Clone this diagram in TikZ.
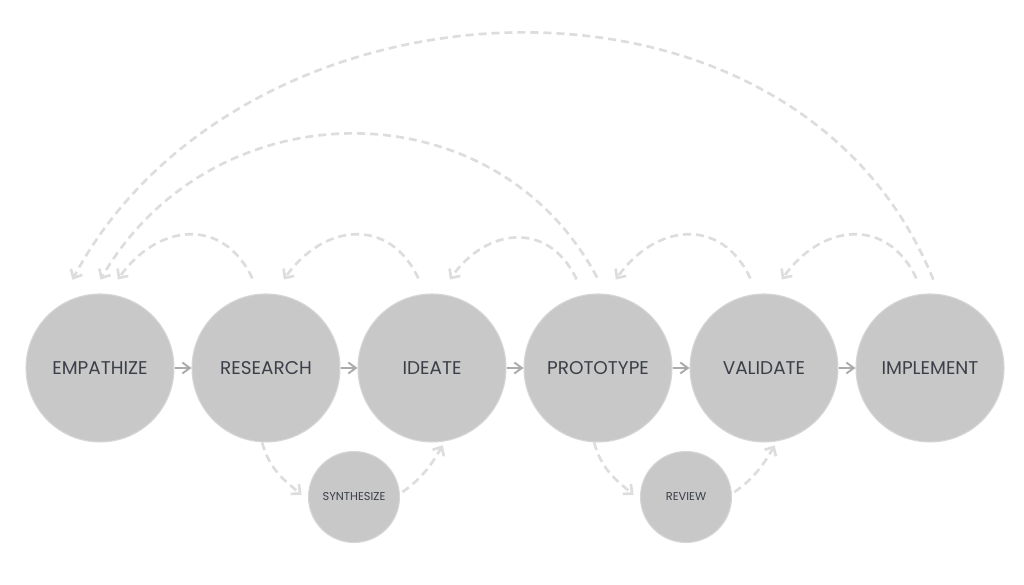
\documentclass[tikz,border=0pt]{standalone}
\usepackage{fontspec}
\setmainfont{Poppins}
\usetikzlibrary{arrows.meta}
\definecolor{stagefill}{HTML}{C8C8C8}
\definecolor{stagerim}{HTML}{D6D6D6}
\definecolor{stagetext}{HTML}{3B3F48}
\definecolor{forwardgray}{HTML}{ABABAB}
\definecolor{feedbackgray}{HTML}{DDDDDD}
\begin{document}
\begin{tikzpicture}[
    stage/.style={circle, fill=stagefill, draw=stagerim, line width=0.6pt, minimum size=2.96cm, inner sep=0pt, text=stagetext, font=\fontsize{10.5}{12}\selectfont},
    substage/.style={stage, minimum size=1.82cm, font=\fontsize{6.5}{8}\selectfont},
    forward/.style={-{Straight Barb[length=1.5mm,width=2.2mm]}, line width=1.1pt, forwardgray},
    feedback/.style={-{Straight Barb[length=1.4mm,width=2.6mm]}, line width=1.5pt, feedbackgray, dash pattern=on 0.16cm off 0.1cm}
]
    % Canvas
    \fill[white] (0,0) rectangle (20.48,11.7);
    \useasboundingbox (0,0) rectangle (20.48,11.7);

    % Main stages
    \node[stage] (emp) at (2.00,4.34) {EMPATHIZE};
    \node[stage] (res) at (5.32,4.34) {RESEARCH};
    \node[stage] (ide) at (8.64,4.34) {IDEATE};
    \node[stage] (pro) at (11.96,4.34) {PROTOTYPE};
    \node[stage] (val) at (15.28,4.34) {VALIDATE};
    \node[stage] (imp) at (18.60,4.34) {IMPLEMENT};

    % Side stages
    \node[substage] (syn) at (7.08,1.76) {SYNTHESIZE};
    \node[substage] (rev) at (13.72,1.76) {REVIEW};

    % Forward flow
    \draw[forward] (emp) -- (res);
    \draw[forward] (res) -- (ide);
    \draw[forward] (ide) -- (pro);
    \draw[forward] (pro) -- (val);
    \draw[forward] (val) -- (imp);

    % Short loops back
    \draw[feedback, shorten <=0.34cm, shorten >=0.35cm] (res.95) to[out=115, in=55, looseness=1.45] (emp.84);
    \draw[feedback, shorten <=0.34cm, shorten >=0.35cm] (ide.95) to[out=115, in=55, looseness=1.45] (res.84);
    \draw[feedback, shorten <=0.34cm, shorten >=0.35cm] (pro.101) to[out=115, in=55, looseness=1.45] (ide.84);
    \draw[feedback, shorten <=0.34cm, shorten >=0.35cm] (val.95) to[out=115, in=55, looseness=1.45] (pro.84);
    \draw[feedback, shorten <=0.34cm, shorten >=0.35cm] (imp.95) to[out=115, in=55, looseness=1.45] (val.84);

    % Long loops back
    \draw[feedback, shorten <=0.37cm, shorten >=0.33cm] (pro.84) to[out=118, in=60, looseness=1.19] (emp.96);
    \draw[feedback, shorten <=0.31cm, shorten >=0.6cm] (imp.83) to[out=112, in=62, looseness=1.12] (emp.124);

    % Detours below
    \draw[feedback, shorten >=0.17cm] (res.-93) to[out=-75, in=140] (syn.184);
    \draw[feedback, shorten <=0.06cm, shorten >=0.09cm] (syn.4) to[out=35, in=-120] (ide.-80);
    \draw[feedback, shorten >=0.17cm] (pro.-93) to[out=-75, in=140] (rev.184);
    \draw[feedback, shorten <=0.06cm, shorten >=0.09cm] (rev.4) to[out=35, in=-120] (val.-80);
\end{tikzpicture}
\end{document}
